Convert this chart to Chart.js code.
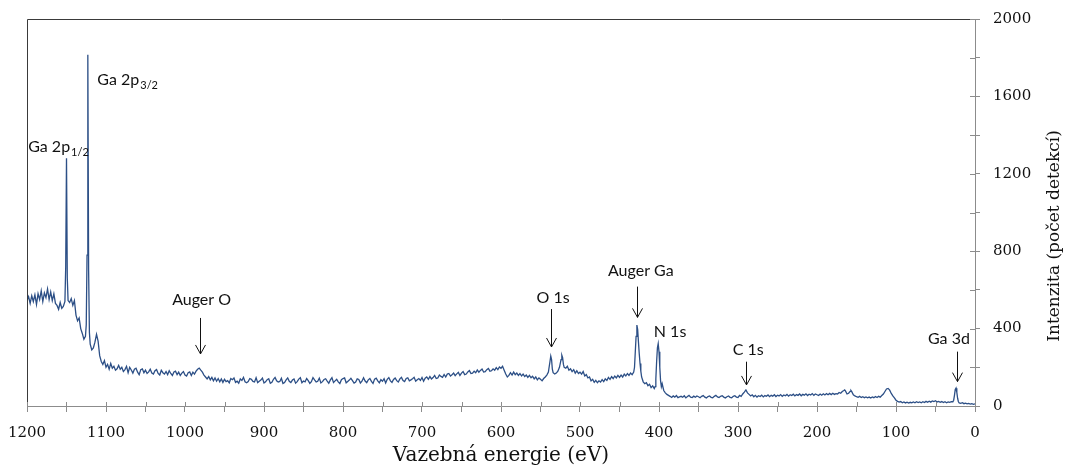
<!DOCTYPE html>
<html>
<head>
<meta charset="utf-8">
<script src="https://cdn.jsdelivr.net/npm/chart.js@4.4.1/dist/chart.umd.min.js"></script>
<style>
body{margin:0;background:#fff;}
#wrap{width:1068px;height:468px;}
</style>
</head>
<body>
<div id="wrap"><canvas id="chart" width="1068" height="468"></canvas></div>
<script>

/* ================= DATA ================= */

// binding energy (eV)
let energy = [
1200,1198,1196,1194,1192,1190,1188,1186,1184,1182,
1180,1178,1176,1174,1172,1170,1168,1166,1164,1162,
1160,1158,1156,1154,1152,1151,1150,1149,1148,1146,
1144,1142,1140,1138,1136,1134,1132,1130,1128,1126,
1125,1124,1123,1122,1121,1120,1118,1116,1114,1112,
1110,1108,1106,1104,1102,1100,1098,1096,1094,1092,
1090,1088,1086,1084,1082,1080,1078,1076,1074,1072,
1070,1068,1066,1064,1062,1060,1058,1056,1054,1052,
1050,1048,1046,1044,1042,1040,1038,1036,1034,1032,
1030,1028,1026,1024,1022,1020,1018,1016,1014,1012,
1010,1008,1006,1004,1002,1000,998,996,994,992,
990,988,986,984,982,980,978,976,974,972,
970,968,966,964,962,960,958,956,954,952,
950,948,946,944,942,940,938,936,934,932,
930,928,926,924,922,920,918,916,914,912,
910,908,906,904,902,900,898,896,894,892,
890,888,886,884,882,880,878,876,874,872,
870,868,866,864,862,860,858,856,854,852,
850,848,846,844,842,840,838,836,834,832,
830,828,826,824,822,820,818,816,814,812,
810,808,806,804,802,800,798,796,794,792,
790,788,786,784,782,780,778,776,774,772,
770,768,766,764,762,760,758,756,754,752,
750,748,746,744,742,740,738,736,734,732,
730,728,726,724,722,720,718,716,714,712,
710,708,706,704,702,700,698,696,694,692,
690,688,686,684,682,680,678,676,674,672,
670,668,666,664,662,660,658,656,654,652,
650,648,646,644,642,640,638,636,634,632,
630,628,626,624,622,620,618,616,614,612,
610,608,606,604,602,600,598,596,594,592,
590,588,586,584,582,580,578,576,574,572,
570,568,566,564,562,560,558,556,554,552,
550,548,546,544,542,540,538,537,536,535,
534,532,530,528,526,524,523,522,521,520,
518,516,514,512,510,508,506,504,502,500,
498,496,494,492,490,488,486,484,482,480,
478,476,474,472,470,468,466,464,462,460,
458,456,454,452,450,448,446,444,442,440,
438,436,434,432,431,430,429,428,427,426,
425,424,423,422,420,418,416,414,412,410,
408,406,405,404,403,402,401,400,399,398,
397,396,394,392,390,388,386,384,382,380,
378,376,374,372,370,368,366,364,362,360,
358,356,354,352,350,348,346,344,342,340,
338,336,334,332,330,328,326,324,322,320,
318,316,314,312,310,308,306,304,302,300,
298,296,294,292,290,288,286,284,282,280,
278,276,274,272,270,268,266,264,262,260,
258,256,254,252,250,248,246,244,242,240,
238,236,234,232,230,228,226,224,222,220,
218,216,214,212,210,208,206,204,202,200,
198,196,194,192,190,188,186,184,182,180,
178,176,174,172,170,168,166,165,164,162,
160,158,157,156,154,152,150,148,146,144,
142,140,138,136,134,132,130,128,126,124,
122,120,118,116,114,112,110,108,106,104,
102,100,98,96,94,92,90,88,86,84,
82,80,78,76,74,72,70,68,66,64,
62,60,58,56,54,52,50,48,46,44,
42,40,38,36,34,32,30,28,27,26,
25,24,23,22,21,20,18,16,14,12,
10,8,6,4,2,0
];

// intensity (counts)
let counts = [
545,565,530,570,540,575,525,580,550,595,
540,585,560,605,550,590,545,580,530,520,
500,535,505,515,540,720,1280,660,545,535,
555,520,545,470,440,455,400,375,345,360,
420,780,1815,700,380,320,290,300,330,370,
335,260,230,215,235,200,215,190,220,195,
205,185,192,210,190,200,178,188,205,172,
200,186,170,190,195,175,162,188,192,172,
185,168,176,190,170,165,182,188,168,160,
185,172,165,178,162,182,168,158,176,180,
162,175,158,170,178,160,155,172,176,158,
175,165,180,190,196,185,175,160,150,140,
152,135,148,130,145,128,142,125,140,122,
138,126,131,120,142,136,145,122,128,118,
140,132,148,125,120,126,142,138,127,124,
146,121,128,134,144,119,125,136,141,117,
122,138,148,130,124,127,143,116,121,135,
145,128,121,134,140,118,126,139,146,120,
129,125,142,131,117,126,147,135,124,128,
144,119,126,137,141,129,118,135,146,121,
130,138,125,116,136,142,145,120,127,134,
143,131,118,124,140,137,119,128,146,129,
121,135,142,127,117,139,144,130,120,136,
128,141,119,138,147,130,122,137,145,131,
124,140,148,132,126,142,146,130,135,141,
148,128,136,142,132,147,128,144,150,138,
152,140,147,158,142,145,160,153,148,163,
150,165,168,155,162,170,157,166,174,158,
170,178,162,165,176,183,168,170,180,172,
186,175,184,191,176,178,188,194,180,182,
192,185,198,188,202,195,205,185,165,150,
158,172,160,175,162,170,158,168,155,165,
152,160,148,158,146,154,140,150,135,145,
138,130,142,150,160,175,230,258,240,190,
172,165,170,180,200,240,262,250,215,200,
195,205,185,192,178,188,170,182,168,175,
165,178,155,162,145,150,130,138,122,132,
120,130,124,136,126,140,132,148,138,152,
142,155,145,158,148,160,150,165,155,168,
158,170,162,175,200,280,360,418,395,330,
270,220,180,150,125,115,120,105,112,95,
104,90,100,140,230,300,322,280,200,130,
100,115,80,68,60,55,50,44,52,46,
54,43,47,50,45,53,42,49,55,46,
44,51,45,52,48,43,50,54,46,42,
49,52,45,43,50,55,47,44,50,53,
46,42,48,52,45,43,50,53,46,44,
55,50,62,72,83,68,60,52,58,48,
55,46,53,49,56,47,54,50,57,48,
55,51,58,49,56,52,59,50,57,53,
60,51,58,54,61,52,59,55,62,53,
60,56,63,54,61,57,64,55,62,58,
54,62,56,63,57,64,58,65,59,66,
60,64,62,70,66,75,80,83,78,62,
66,76,80,74,58,52,48,45,50,44,
48,43,47,42,46,41,47,43,49,44,
50,46,54,62,75,88,91,82,65,52,
42,30,24,20,23,17,21,16,20,15,
19,16,21,17,22,18,21,17,22,18,
24,19,25,20,26,23,27,21,24,19,
23,18,22,17,21,19,23,22,30,55,
85,92,70,40,22,16,14,17,12,15,
11,13,10,12,9,11
];

// peak annotations (positions in eV / counts)
let peakNames  = ["Auger O","O 1s","Auger Ga","N 1s","C 1s","Ga 3d"];
let peakTextEv = [979,534,423,386,287,33];
let peakTextY  = [522,530,674,359,261,320];
let arrowEv    = [981,537,428,null,290,23];
let arrowFrom  = [455,501,617,null,229,281];
let arrowTo    = [269,305,458,null,109,126];

// Ga 2p labels with subscripts (left edge eV, baseline counts)
let subNames  = ["Ga 2p","Ga 2p"];
let subText   = ["1/2","3/2"];
let subEv     = [1198.5,1111];
let subY      = [1314,1659];

let xTitle = "Vazebná energie (eV)";
let yTitle = "Intenzita (počet detekcí)";

/* ================= EXTRA DRAWING ================= */

const extras = {
id:"extras",
afterDraw(chart){

let ctx = chart.ctx;
let a = chart.chartArea;
let x = chart.scales.x;
let y = chart.scales.y;

ctx.save();

// plot frame top + left
ctx.strokeStyle = "#3a3a3a";
ctx.lineWidth = 1;
ctx.beginPath();
ctx.moveTo(Math.round(a.left)+0.5, a.bottom);
ctx.lineTo(Math.round(a.left)+0.5, Math.round(a.top)+0.5);
ctx.lineTo(a.right, Math.round(a.top)+0.5);
ctx.stroke();

// inner half of crossing tick marks
ctx.strokeStyle = "#8c8c8c";
ctx.beginPath();
x.ticks.forEach(t=>{
let px = Math.round(x.getPixelForValue(t.value))+0.5;
ctx.moveTo(px, a.bottom);
ctx.lineTo(px, a.bottom-4);
});
y.ticks.forEach(t=>{
let py = Math.round(y.getPixelForValue(t.value))+0.5;
ctx.moveTo(a.right, py);
ctx.lineTo(a.right-5, py);
});
ctx.stroke();

// peak labels + arrows
ctx.fillStyle = "#111";
ctx.strokeStyle = "#111";
ctx.font = "16px Lato";
ctx.textAlign = "center";
ctx.textBaseline = "alphabetic";

peakNames.forEach((name,i)=>{
ctx.fillText(name, x.getPixelForValue(peakTextEv[i]), y.getPixelForValue(peakTextY[i]));
if(arrowEv[i] === null) return;
let ax = Math.round(x.getPixelForValue(arrowEv[i]))+0.5;
let y1 = y.getPixelForValue(arrowFrom[i]);
let y2 = y.getPixelForValue(arrowTo[i]);
ctx.beginPath();
ctx.moveTo(ax, y1);
ctx.lineTo(ax, y2);
ctx.moveTo(ax-5, y2-9);
ctx.lineTo(ax, y2);
ctx.lineTo(ax+5, y2-9);
ctx.stroke();
});

// Ga 2p labels
ctx.textAlign = "left";
subNames.forEach((name,i)=>{
let px = x.getPixelForValue(subEv[i]);
let py = y.getPixelForValue(subY[i]);
ctx.font = "16px Lato";
ctx.fillText(name, px, py);
let w = ctx.measureText(name).width;
ctx.font = "11px Lato";
ctx.fillText(subText[i], px+w+1, py+4);
});

// right axis title, reading upwards
ctx.font = "17px 'DejaVu Serif'";
ctx.fillStyle = "#111";
ctx.textAlign = "center";
ctx.textBaseline = "middle";
ctx.translate(1055, 236);
ctx.rotate(-Math.PI/2);
ctx.fillText(yTitle, 0, 0);

ctx.restore();

}
};

/* ================= CHART ================= */

let points = energy.map((e,i)=>({x:e, y:counts[i]}));

let chart = new Chart(document.getElementById("chart"),{

type:"line",

data:{
datasets:[{
data:points,
borderColor:"#2c4f86",
borderWidth:1.3,
pointRadius:0,
tension:0,
fill:false
}]
},

options:{
responsive:false,
animation:false,
events:[],
layout:{padding:{left:27,top:19,right:0,bottom:0}},
plugins:{
legend:{display:false},
tooltip:{enabled:false}
},
scales:{
x:{
type:"linear",
reverse:true,
min:0,
max:1200,
afterFit(scale){
scale.height = 62;
scale.paddingLeft = 0;
scale.paddingRight = 0;
},
border:{color:"#8c8c8c",width:1},
grid:{drawOnChartArea:false,drawTicks:true,tickLength:6,color:"#8c8c8c"},
ticks:{
stepSize:50,
autoSkip:false,
maxRotation:0,
padding:12,
color:"#111",
font:{family:"'DejaVu Serif'",size:15},
callback:v=> v % 100 === 0 ? v : ""
},
title:{
display:true,
text:xTitle,
color:"#111",
font:{family:"'DejaVu Serif'",size:20},
padding:{top:0,bottom:0}
}
},
y:{
position:"right",
min:0,
max:2000,
afterFit(scale){
scale.width = 93;
scale.paddingTop = 0;
scale.paddingBottom = 0;
},
border:{color:"#8c8c8c",width:1},
grid:{drawOnChartArea:false,drawTicks:true,tickLength:5,color:"#8c8c8c"},
ticks:{
stepSize:200,
autoSkip:false,
padding:13,
color:"#111",
font:{family:"'DejaVu Serif'",size:15},
callback:v=> v % 400 === 0 ? v : ""
}
}
}
},

plugins:[extras]

});

</script>
</body>
</html>
